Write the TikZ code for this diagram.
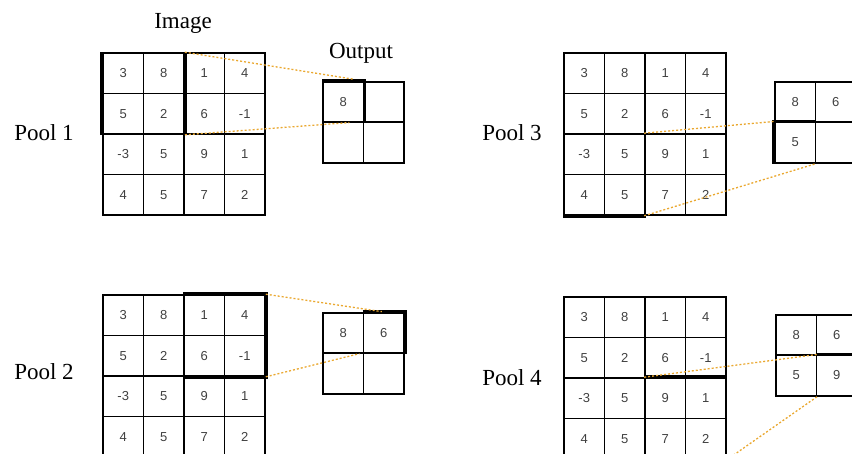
\documentclass[tikz,border=0pt]{standalone}
\usepackage{fontspec}
\setmainfont{Liberation Serif}
\newfontfamily\numfont{Liberation Sans}
\usetikzlibrary{positioning}
\definecolor{poolorange}{RGB}{234,168,48}
\tikzset{cell/.style={rectangle,draw,line width=1.6pt,minimum width=40.5pt,minimum height=40.5pt,inner sep=0pt,font=\numfont\fontsize{13}{14}\selectfont,text=black!75},
  lbl/.style={inner sep=0pt,font=\fontsize{23}{25}\selectfont},
  hi/.style={line width=3.6pt},
  link/.style={poolorange,line width=1.3pt,dash pattern=on 2pt off 2pt}}

\begin{document}
\begin{tikzpicture}[x=1pt,y=-1pt]
  \useasboundingbox (0,0) rectangle (852,453);
  % the four 4x4 images
  \foreach \g/\gx/\gy in {a/103/53, b/103/295, c/564/53, d/564/297}
    \foreach \v [count=\i from 0] in {3,8,1,4,5,2,6,-1,-3,5,9,1,4,5,7,2} {
      \pgfmathtruncatemacro\r{div(\i,4)}
      \pgfmathtruncatemacro\c{mod(\i,4)}
      \node[cell] (\g\r\c) at (\gx+\c*40.5+20.25, \gy+\r*40.5+20.25) {\v};
    }
  % the 2x2 outputs, filled up to pool n
  \foreach \g/\gx/\gy/\n in {a/323/83/1, b/323/314/2, c/775/83/3, d/776/316/4}
    \foreach \v [count=\i from 0] in {8,6,5,9} {
      \pgfmathtruncatemacro\r{div(\i,2)}
      \pgfmathtruncatemacro\c{mod(\i,2)}
      \node[cell] (o\g\r\c) at (\gx+\c*40.5+20.25, \gy+\r*40.5+19) {\ifnum\i<\n\relax\v\fi};
    }
  \node[lbl] (img) at (183,23) {Image};
  \node[lbl] (out) at (361,53) {Output};
  \node[lbl] (p1) at (44,133) {Pool 1};
  \node[lbl] (p2) at (44,372) {Pool 2};
  \node[lbl] (p3) at (512,133) {Pool 3};
  \node[lbl] (p4) at (512,378) {Pool 4};
  % windows
  \draw[hi] (a00.north west) -- (a10.south west) (a01.north east) -- (a11.south east);
  \draw[hi] (oa00.north west) -- (oa00.north east) -- (oa00.south east);
  \draw[hi] (b02.north west) -- (b03.north east) -- (b13.south east) -- (b12.south west);
  \draw[hi] (ob01.north west) -- (ob01.north east) -- (ob01.south east);
  \draw[hi] (c30.south west) -- (c31.south east);
  \draw[hi] (oc10.north east) -- (oc10.north west) -- (oc10.south west);
  \draw[hi] (d22.north west) -- (d23.north east);
  \draw[hi] (od11.north west) -- (od11.north east);
  % projections
  \draw[link,shorten >=10pt] (a01.north east) -- (oa00.north east);
  \draw[link,shorten >=15pt] (a11.south east) -- (oa10.north east);
  \draw[link,shorten >=2pt] (b03.north east) -- (ob01.north);
  \draw[link,shorten >=5pt] (b13.south east) -- (ob10.north east);
  \draw[link] (c22.north west) -- (oc10.north west);
  \draw[link] (c32.south west) -- (oc10.south east);
  \draw[link] (d22.north west) -- (od10.north east);
  \draw[link] (d33.south east) -- (od10.south east);
\end{tikzpicture}
\end{document}
